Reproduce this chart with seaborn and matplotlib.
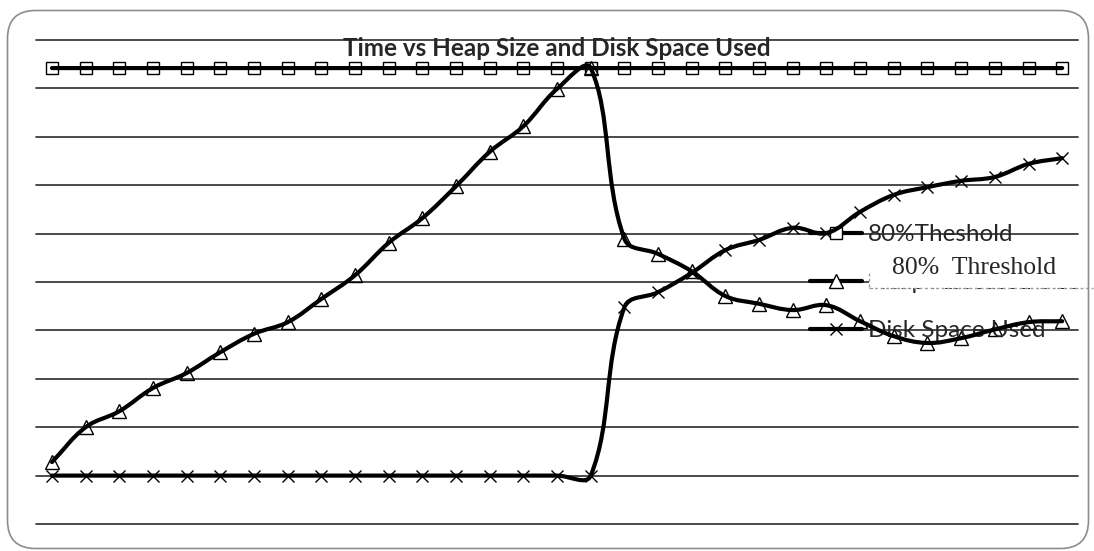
import numpy as np
import matplotlib
matplotlib.use("Agg")
import matplotlib.pyplot as plt
import seaborn as sns
from matplotlib.path import Path
from matplotlib.patches import PathPatch, FancyBboxPatch, Rectangle
from matplotlib.lines import Line2D
from matplotlib.transforms import IdentityTransform

# ---- data -----------------------------------------------------------------
time_steps = list(range(31))
threshold = [9.42, 9.42, 9.42, 9.42, 9.42, 9.42, 9.42, 9.42, 9.42, 9.42, 9.42,
             9.42, 9.42, 9.42, 9.42, 9.42, 9.42, 9.42, 9.42, 9.42, 9.42, 9.42,
             9.42, 9.42, 9.42, 9.42, 9.42, 9.42, 9.42, 9.42, 9.42]
heap_size = [1.28, 2.00, 2.33, 2.81, 3.12, 3.55, 3.93, 4.17, 4.65, 5.14, 5.81,
             6.32, 6.98, 7.69, 8.22, 8.99, 9.42, 5.89, 5.58, 5.22, 4.71, 4.55,
             4.42, 4.52, 4.19, 3.88, 3.74, 3.84, 4.02, 4.17, 4.19]
disk_space = [1.00, 1.00, 1.00, 1.00, 1.00, 1.00, 1.00, 1.00, 1.00, 1.00, 1.00,
              1.00, 1.00, 1.00, 1.00, 1.00, 1.00, 4.48, 4.79, 5.19, 5.66, 5.87,
              6.12, 6.01, 6.45, 6.80, 6.96, 7.09, 7.17, 7.44, 7.56]
series_labels = ["80%Theshold", "Heap Allocated Size", "Disk Space Used"]
title_text = "Time vs Heap Size and Disk Space Used"
overlay_text = "80%  Threshold"

# ---- figure ---------------------------------------------------------------
sns.set_style("white")
W, H = 1094, 551
fig = plt.figure(figsize=(W / 100, H / 100), dpi=100)
ax = fig.add_axes([36 / W, (H - 524) / H, (1078 - 36) / W, (524 - 40) / H])
ax.set_xlim(-0.475, 30.47)
ax.set_ylim(0, 10)
for s in ax.spines.values():
    s.set_visible(False)
ax.set_xticks([])
ax.set_yticks(range(11))
ax.set_yticklabels([])
ax.tick_params(axis="y", length=0)
ax.yaxis.grid(True, color="#3c3c3c", lw=1.3)
ax.set_axisbelow(True)
for gl in ax.get_ygridlines():
    gl.set_clip_on(False)


def smooth_path(xs, ys, t=0.38):
    """Smoothed polyline through the points (cubic Beziers, length-weighted tangents)."""
    pts = ax.transData.transform(np.column_stack([xs, ys]))
    n = len(pts)
    c_in, c_out = [], []
    for i in range(n):
        p0, p1, p2 = pts[max(i - 1, 0)], pts[i], pts[min(i + 1, n - 1)]
        d01, d12 = np.hypot(*(p1 - p0)), np.hypot(*(p2 - p1))
        tot = d01 + d12
        fa = t * d01 / tot if tot else 0
        fb = t * d12 / tot if tot else 0
        c_in.append(p1 - fa * (p2 - p0))
        c_out.append(p1 + fb * (p2 - p0))
    verts, codes = [pts[0]], [Path.MOVETO]
    for i in range(n - 1):
        verts += [c_out[i], c_in[i + 1], pts[i + 1]]
        codes += [Path.CURVE4] * 3
    verts = ax.transData.inverted().transform(np.array(verts))
    return Path(verts, codes)


styles = [("s", 9.0), ("^", 9.5), ("x", 8.5)]
for ys, (mk, ms) in zip([threshold, heap_size, disk_space], styles):
    sns.lineplot(x=time_steps, y=ys, ax=ax, marker=mk, markersize=ms, lw=0,
                 ls="none", color="black", mfc="none", mec="black", mew=1.0,
                 legend=False, zorder=3)
    ax.add_patch(PathPatch(smooth_path(time_steps, ys), fill=False,
                           edgecolor="black", lw=3.0, capstyle="round",
                           joinstyle="round", zorder=4))

# ---- legend ---------------------------------------------------------------
handles = [Line2D([], [], color="black", lw=3.0, marker=mk, ms=ms,
                  mfc="white" if mk != "x" else "none", mec="black", mew=1.0)
           for mk, ms in styles]
leg = ax.legend(handles, series_labels, loc="upper left",
                bbox_to_anchor=(810 / W, (H - 224) / H),
                bbox_transform=fig.transFigure, frameon=False,
                prop={"family": "Lato", "size": 17.5}, handlelength=2.15,
                handletextpad=0.25, labelspacing=1.12, borderpad=0,
                borderaxespad=0)
leg.set_zorder(3.5)

# label box laid over the middle legend entry
fig.add_artist(Rectangle((869 / W, (H - 288) / H), (W - 869) / W, 36 / H,
                         transform=fig.transFigure, facecolor="white",
                         edgecolor="none", zorder=5))
fig.add_artist(Line2D([869 / W, 869 / W], [(H - 273) / H, (H - 288) / H],
                      transform=fig.transFigure, color="#999999", lw=1,
                      ls=(0, (2, 2)), zorder=6))
fig.add_artist(Line2D([869 / W, 1 - 1 / W], [(H - 288) / H, (H - 288) / H],
                      transform=fig.transFigure, color="#999999", lw=1,
                      ls=(0, (2, 2)), zorder=6))
fig.text(892 / W, (H - 274) / H, overlay_text, family="Liberation Serif",
         size=18.5, va="baseline", ha="left", zorder=7)

# ---- title and outer frame -----------------------------------------------
fig.text(557 / W, (H - 56) / H, title_text, family="Lato", weight="bold",
         size=17.5, ha="center", va="baseline", zorder=7)
fig.add_artist(FancyBboxPatch((7.5, 2.5), 1081, 538,
                              boxstyle="round,pad=0,rounding_size=28",
                              transform=IdentityTransform(), facecolor="none",
                              edgecolor="#8c8c8c", lw=1.2, zorder=8))

fig.savefig("out.png", dpi=100)
